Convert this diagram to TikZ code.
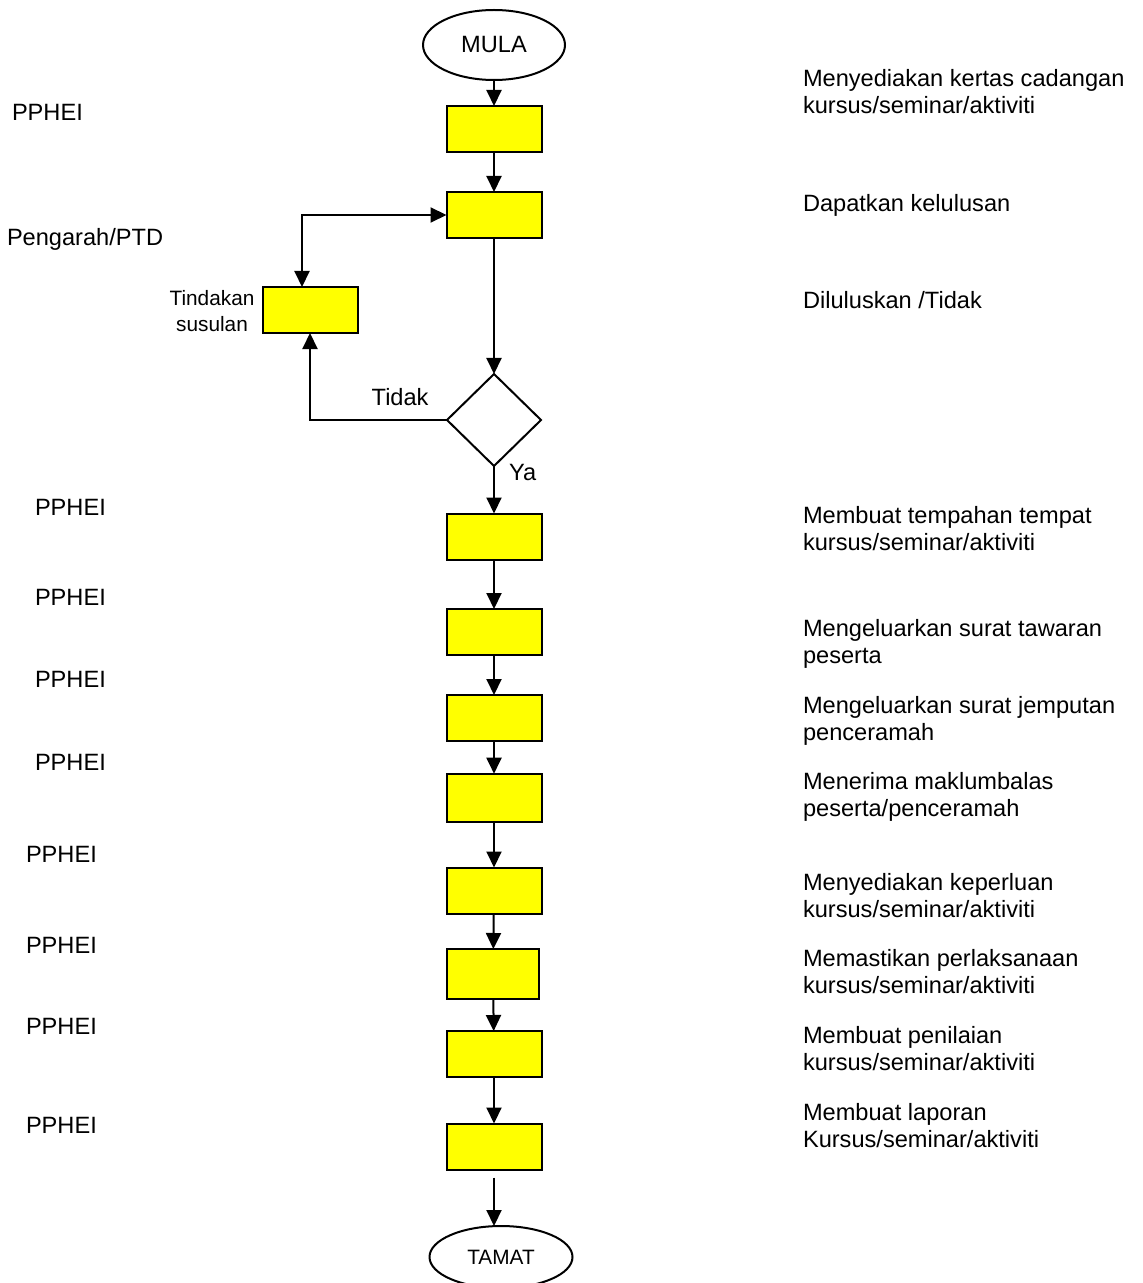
\documentclass[tikz,border=0pt]{standalone}
\usepackage{fontspec}
\setmainfont{Liberation Sans}
\usetikzlibrary{arrows.meta,shapes.geometric}
\definecolor{boxyellow}{RGB}{255,255,0}
\begin{document}
\begin{tikzpicture}[x=0.5pt,y=-0.5pt,
  >={Triangle[length=8pt,width=7.5pt]},
  every node/.style={inner sep=0pt, outer sep=0pt},
  stepbox/.style={draw, line width=1pt, fill=boxyellow, minimum width=47.5pt, minimum height=23pt},
  terminal/.style={draw, line width=1pt, ellipse, minimum width=71pt, minimum height=35pt},
  decision/.style={draw, line width=1pt, diamond, aspect=1, minimum width=47pt, minimum height=46pt},
  flow/.style={->, line width=1pt},
  txt/.style={anchor=base west, align=left, font=\fontsize{11.8pt}{13.5pt}\selectfont},
  small/.style={font=\fontsize{10.4pt}{13pt}\selectfont}]
\useasboundingbox (0,0) rectangle (1143,1283);

% terminals, process steps and the approval decision
\node[terminal, font=\fontsize{11.8pt}{13.5pt}\selectfont] (mula) at (494,45) {MULA};
\node[stepbox] (b1) at (494,129) {};
\node[stepbox] (b2) at (494,215) {};
\node[stepbox] (tind) at (310,310) {};
\node[decision] (dia) at (494,420) {};
\node[stepbox] (b3) at (494,536.5) {};
\node[stepbox] (b4) at (494,632) {};
\node[stepbox] (b5) at (494,718) {};
\node[stepbox, minimum height=24pt] (b6) at (494,797.7) {};
\node[stepbox] (b7) at (494,890.5) {};
\node[stepbox, minimum width=46pt, minimum height=25pt] (b8) at (493,974) {};
\node[stepbox] (b9) at (494,1054) {};
\node[stepbox] (b10) at (494,1146.5) {};
\node[terminal, small, minimum width=71.5pt, minimum height=31pt] (tamat) at (501,1257) {TAMAT};

% main flow
\draw[flow] (mula) -- (b1);
\draw[flow] (b1) -- (b2);
\draw[flow] (b2) -- (dia);
\draw[flow] (dia) -- (b3);
\draw[flow] (b3) -- (b4);
\draw[flow] (b4) -- (b5);
\draw[flow] (b5) -- (b6);
\draw[flow] (b6) -- (b7);
\draw[flow] (b7) -- (b8);
\draw[flow] (b8) -- (b9);
\draw[flow] (b9) -- (b10);
\draw[flow] ([yshift=-4pt]b10.south) -- (b10.south |- tamat.north);

% rejection loop
\draw[flow] (dia.west) -| (tind.south);
\draw[<->, line width=1pt] ([xshift=-4pt]tind.north) |- (b2.west);

% branch labels (two-line nodes sit on the baseline of their last line)
\node[txt] (ltidak) at (371.7,405) {Tidak};
\node[txt] (lya) at (509,480) {Ya};
\node[small, anchor=base, align=center] (ltind) at (212,331) {Tindakan\\susulan};

% responsible parties
\node[txt] (r1) at (12,120.5) {PPHEI};
\node[txt] (r2) at (7,246) {Pengarah/PTD};
\node[txt] (r3) at (35,515.5) {PPHEI};
\node[txt] (r4) at (35,605.5) {PPHEI};
\node[txt] (r5) at (35,687.5) {PPHEI};
\node[txt] (r6) at (35,770.5) {PPHEI};
\node[txt] (r7) at (26,862.5) {PPHEI};
\node[txt] (r8) at (26,953.5) {PPHEI};
\node[txt] (r9) at (26,1034.5) {PPHEI};
\node[txt] (r10) at (26,1133.5) {PPHEI};

% activity descriptions
\node[txt] (d1) at (803,113.5) {Menyediakan kertas cadangan\\kursus/seminar/aktiviti};
\node[txt] (d2) at (803,211.5) {Dapatkan kelulusan};
\node[txt] (d3) at (803,308.5) {Diluluskan /Tidak};
\node[txt] (d4) at (803,550) {Membuat tempahan tempat\\kursus/seminar/aktiviti};
\node[txt] (d5) at (803,663.5) {Mengeluarkan surat tawaran\\peserta};
\node[txt] (d6) at (803,740) {Mengeluarkan surat jemputan\\penceramah};
\node[txt] (d7) at (803,816) {Menerima maklumbalas\\peserta/penceramah};
\node[txt] (d8) at (803,917) {Menyediakan keperluan\\kursus/seminar/aktiviti};
\node[txt] (d9) at (803,993) {Memastikan perlaksanaan\\kursus/seminar/aktiviti};
\node[txt] (d10) at (803,1070) {Membuat penilaian\\kursus/seminar/aktiviti};
\node[txt] (d11) at (803,1147) {Membuat laporan\\Kursus/seminar/aktiviti};
\end{tikzpicture}
\end{document}
